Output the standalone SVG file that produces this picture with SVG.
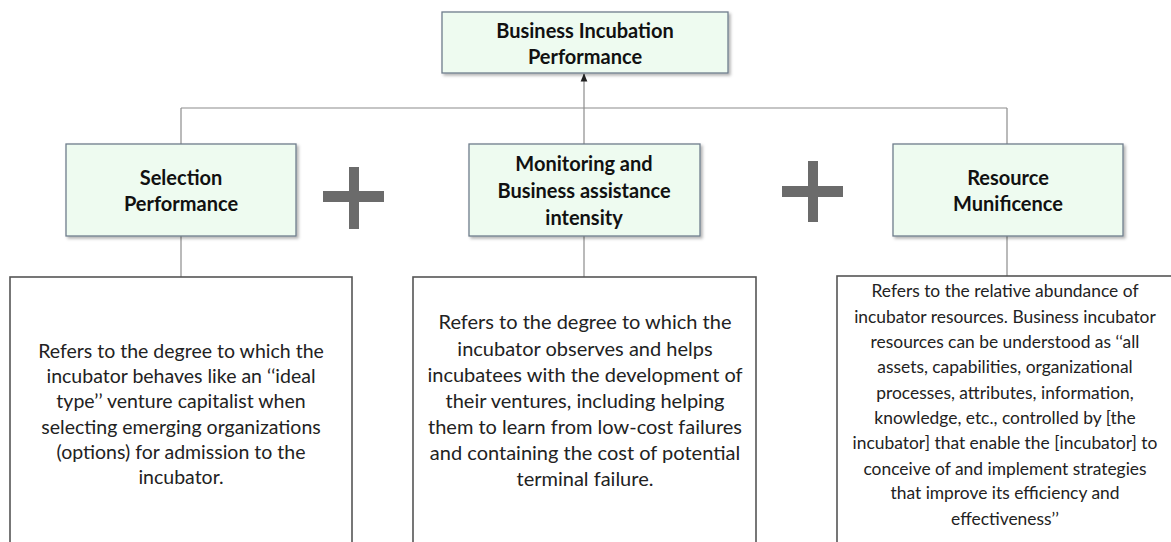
<svg xmlns="http://www.w3.org/2000/svg" width="1171" height="542" viewBox="0 0 1171 542">
  <defs>
    <marker id="arrowHead" viewBox="0 0 10 10" refX="9" refY="5" markerWidth="7" markerHeight="7" orient="auto-start-reverse">
      <path d="M0,1 L10,5 L0,9 Z" fill="#222"/>
    </marker>
    <filter id="dropShadow" x="-5%" y="-10%" width="115%" height="130%">
      <feDropShadow dx="2" dy="2" stdDeviation="1.5" flood-color="#000" flood-opacity="0.3"/>
    </filter>
  </defs>
  <style>
    .head { fill: #eefbf0; stroke: #6f7d8c; stroke-width: 1.3; filter: url(#dropShadow); }
    .desc { fill: #ffffff; stroke: #555555; stroke-width: 1.6; }
    .link { stroke: #8c8c8c; stroke-width: 1.2; fill: none; }
    .plus { fill: #6b6b6b; }
    .ht { font-family: Lato, "Liberation Sans", sans-serif; font-weight: bold; font-size: 20px; fill: #111; text-anchor: middle; }
    .dt { font-family: Lato, "Liberation Sans", sans-serif; font-size: 19.5px; fill: #222; text-anchor: middle; }
    .dt-m { font-size: 20px; }
    .dt-s { font-size: 17.4px; }
  </style>
  <rect width="1171" height="542" fill="#ffffff"/>

  <!-- connectors -->
  <g id="connectors">
    <line class="link" x1="181" y1="108" x2="1007" y2="108"/>
    <line class="link" x1="181" y1="108" x2="181" y2="144"/>
    <line class="link" x1="1007" y1="108" x2="1007" y2="144"/>
    <line class="link" x1="584" y1="144" x2="584" y2="74" stroke="#444" marker-end="url(#arrowHead)"/>
    <line class="link" x1="181" y1="236" x2="181" y2="277"/>
    <line class="link" x1="584" y1="236" x2="584" y2="277"/>
    <line class="link" x1="1007" y1="236" x2="1007" y2="276"/>
  </g>

  <!-- root node -->
  <g id="node-performance">
    <rect class="head" x="442" y="12" width="286" height="61"/>
    <text class="ht" x="585" y="38">Business Incubation</text>
    <text class="ht" x="585" y="64">Performance</text>
  </g>

  <!-- dimension nodes -->
  <g id="node-selection">
    <rect class="head" x="66" y="144" width="230" height="92"/>
    <text class="ht" x="181" y="185">Selection</text>
    <text class="ht" x="181" y="211">Performance</text>
  </g>
  <g id="node-monitoring">
    <rect class="head" x="469" y="144" width="231" height="92"/>
    <text class="ht" x="584" y="171">Monitoring and</text>
    <text class="ht" x="584" y="198">Business assistance</text>
    <text class="ht" x="584" y="225">intensity</text>
  </g>
  <g id="node-munificence">
    <rect class="head" x="893" y="144" width="230" height="92"/>
    <text class="ht" x="1008" y="185">Resource</text>
    <text class="ht" x="1008" y="211">Munificence</text>
  </g>

  <!-- plus signs between dimensions -->
  <g id="plus-1" class="plus">
    <rect x="349" y="167" width="10" height="62"/>
    <rect x="323" y="191" width="61" height="11"/>
  </g>
  <g id="plus-2" class="plus">
    <rect x="808" y="161" width="10" height="61"/>
    <rect x="782" y="186" width="61" height="11"/>
  </g>

  <!-- definition boxes -->
  <g id="desc-selection">
    <rect class="desc" x="10" y="277" width="342" height="280"/>
    <text class="dt" x="181" y="358">Refers to the degree to which the</text>
    <text class="dt" x="181" y="383">incubator behaves like an ‘‘ideal</text>
    <text class="dt" x="181" y="408">type’’ venture capitalist when</text>
    <text class="dt" x="181" y="434">selecting emerging organizations</text>
    <text class="dt" x="181" y="459">(options) for admission to the</text>
    <text class="dt" x="181" y="484">incubator.</text>
  </g>
  <g id="desc-monitoring">
    <rect class="desc" x="413" y="277" width="343" height="280"/>
    <text class="dt dt-m" x="585" y="329">Refers to the degree to which the</text>
    <text class="dt dt-m" x="585" y="356">incubator observes and helps</text>
    <text class="dt dt-m" x="585" y="382">incubatees with the development of</text>
    <text class="dt dt-m" x="585" y="408">their ventures, including helping</text>
    <text class="dt dt-m" x="585" y="434">them to learn from low-cost failures</text>
    <text class="dt dt-m" x="585" y="460">and containing the cost of potential</text>
    <text class="dt dt-m" x="585" y="486">terminal failure.</text>
  </g>
  <g id="desc-munificence">
    <rect class="desc" x="837" y="276" width="345" height="280"/>
    <text class="dt dt-s" x="1005" y="297">Refers to the relative abundance of</text>
    <text class="dt dt-s" x="1005" y="323">incubator resources. Business incubator</text>
    <text class="dt dt-s" x="1005" y="348">resources can be understood as ‘‘all</text>
    <text class="dt dt-s" x="1005" y="373">assets, capabilities, organizational</text>
    <text class="dt dt-s" x="1005" y="399">processes, attributes, information,</text>
    <text class="dt dt-s" x="1005" y="424">knowledge, etc., controlled by [the</text>
    <text class="dt dt-s" x="1005" y="449">incubator] that enable the [incubator] to</text>
    <text class="dt dt-s" x="1005" y="475">conceive of and implement strategies</text>
    <text class="dt dt-s" x="1005" y="499">that improve its efficiency and</text>
    <text class="dt dt-s" x="1005" y="525">effectiveness’’</text>
  </g>
</svg>
